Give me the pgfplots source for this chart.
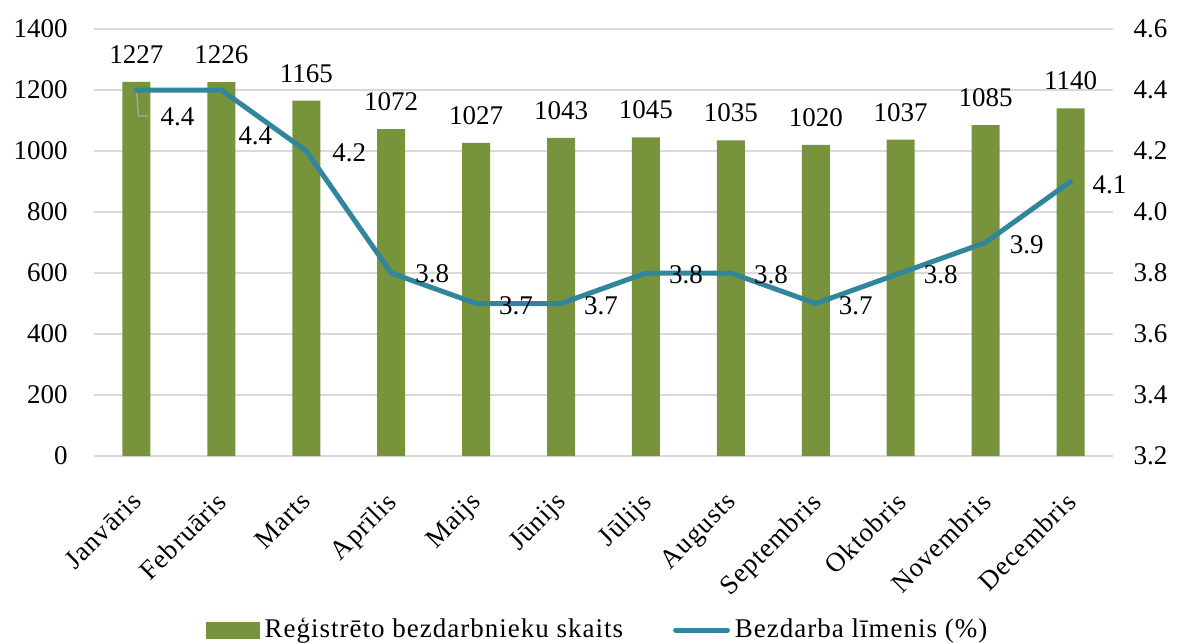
\documentclass[border=0pt]{standalone}
\usepackage{fontspec}
\setmainfont{Liberation Serif}
\newfontfamily\tnr{Liberation Serif}
\newfontfamily\tnrw[LetterSpace=3.7]{Liberation Serif}
\usepackage{pgfplots}
\usepackage{pgfplotstable}
\pgfplotsset{compat=1.18}

\definecolor{barg}{HTML}{77933C}
\definecolor{lineb}{HTML}{31859C}
\definecolor{gridc}{HTML}{D9D9D9}
\definecolor{leadc}{HTML}{A6A6A6}

\newcommand\lf{\tnr\fontsize{8.1pt}{9.7pt}\selectfont}
\newcommand\wf{\tnrw\fontsize{8.1pt}{9.7pt}\selectfont}

% x, registered unemployed, rate (%), label shifts for the rate labels (pt)
\pgfplotstableread{
x  count rate dx   dy
0  1227  4.4  12.3 -8.1
1  1226  4.4  10.2 -13.8
2  1165  4.2  12.9 -0.6
3  1072  3.8  12.3 -0.3
4  1027  3.7  12.0 -0.6
5  1043  3.7  12.0 -0.6
6  1045  3.8  12.0 -0.6
7  1035  3.8  12.0 -0.6
8  1020  3.7  12.0 -0.6
9  1037  3.8  12.0 -0.6
10 1085  3.9  12.3 -0.6
11 1140  4.1  11.7 -0.9
}\data

\begin{document}
\lf
\begin{tikzpicture}[font=\lf]
\useasboundingbox (-28.2pt,-56.1pt) rectangle (325.5pt,136.8pt);
\pgfplotsset{
  base/.style={
    width=305.7pt, height=128.1pt, scale only axis,
    xmin=-0.5, xmax=11.5,
    axis line style={draw=none},
    major tick length=0pt,
    /pgf/number format/assume math mode=true,
    tick label style={font=\lf},
  }
}
\begin{axis}[base,
  ymin=0, ymax=1400, ytick distance=200,
  ymajorgrids, grid style={gridc, line width=0.6pt},
  yticklabel style={xshift=-5pt, /pgf/number format/1000 sep={}},
  xtick={0,...,11},
  xticklabels={Janvāris,Februāris,Marts,Aprīlis,Maijs,Jūnijs,Jūlijs,Augusts,Septembris,Oktobris,Novembris,Decembris},
  xticklabel style={font=\wf, rotate=45, anchor=north east, inner sep=0pt, xshift=-8.5pt, yshift=-5.8pt},
]
\addplot[ybar, bar width=8.4pt, fill=barg, draw=none,
  nodes near coords,
  point meta=y,
  nodes near coords style={font=\lf, anchor=south, yshift=2.6pt,
    /pgf/number format/1000 sep={}},
] table[x=x, y=count] {\data};
\end{axis}

\begin{axis}[base,
  ymin=3.2, ymax=4.6, ytick distance=0.2,
  yticklabel pos=right,
  yticklabel style={xshift=3.3pt, /pgf/number format/.cd, fixed, fixed zerofill, precision=1},
  xtick=\empty,
  legend style={at={(0.4935,-0.408)}, anchor=center, draw=none, fill=none,
    font=\wf, legend columns=2,
    nodes={inner sep=0pt},
    /tikz/every even column/.append style={column sep=15pt},
    /tikz/every odd column/.append style={column sep=1.5pt}},
  legend cell align=left,
]
\addlegendimage{legend image code/.code={\fill[barg] (0pt,-2.4pt) rectangle (15.6pt,2.4pt);}}
\addlegendentry{Reģistrēto bezdarbnieku skaits}
\draw[leadc, line width=0.4pt] (axis cs:0,4.4) -- ++(0.6pt,-7.8pt) -- ++(3pt,0pt);
\draw[leadc, line width=0.4pt] (axis cs:1,4.4) -- ++(10.5pt,-6.9pt);
\addplot[lineb, line width=1.5pt, line cap=round, line join=round, mark=none,
  legend image code/.code={
    \draw[lineb, line width=1.5pt, line cap=round] (0.75pt,0pt) -- (16.3pt,0pt);},
  nodes near coords,
  point meta=y,
  visualization depends on={\thisrow{dx} \as \dx},
  visualization depends on={\thisrow{dy} \as \dy},
  nodes near coords style={font=\lf, text=black, anchor=center,
    xshift=\dx pt, yshift=\dy pt,
    /pgf/number format/.cd, fixed, fixed zerofill, precision=1},
] table[x=x, y=rate] {\data};
\addlegendentry{Bezdarba līmenis (\%)}
\end{axis}
\end{tikzpicture}
\end{document}
